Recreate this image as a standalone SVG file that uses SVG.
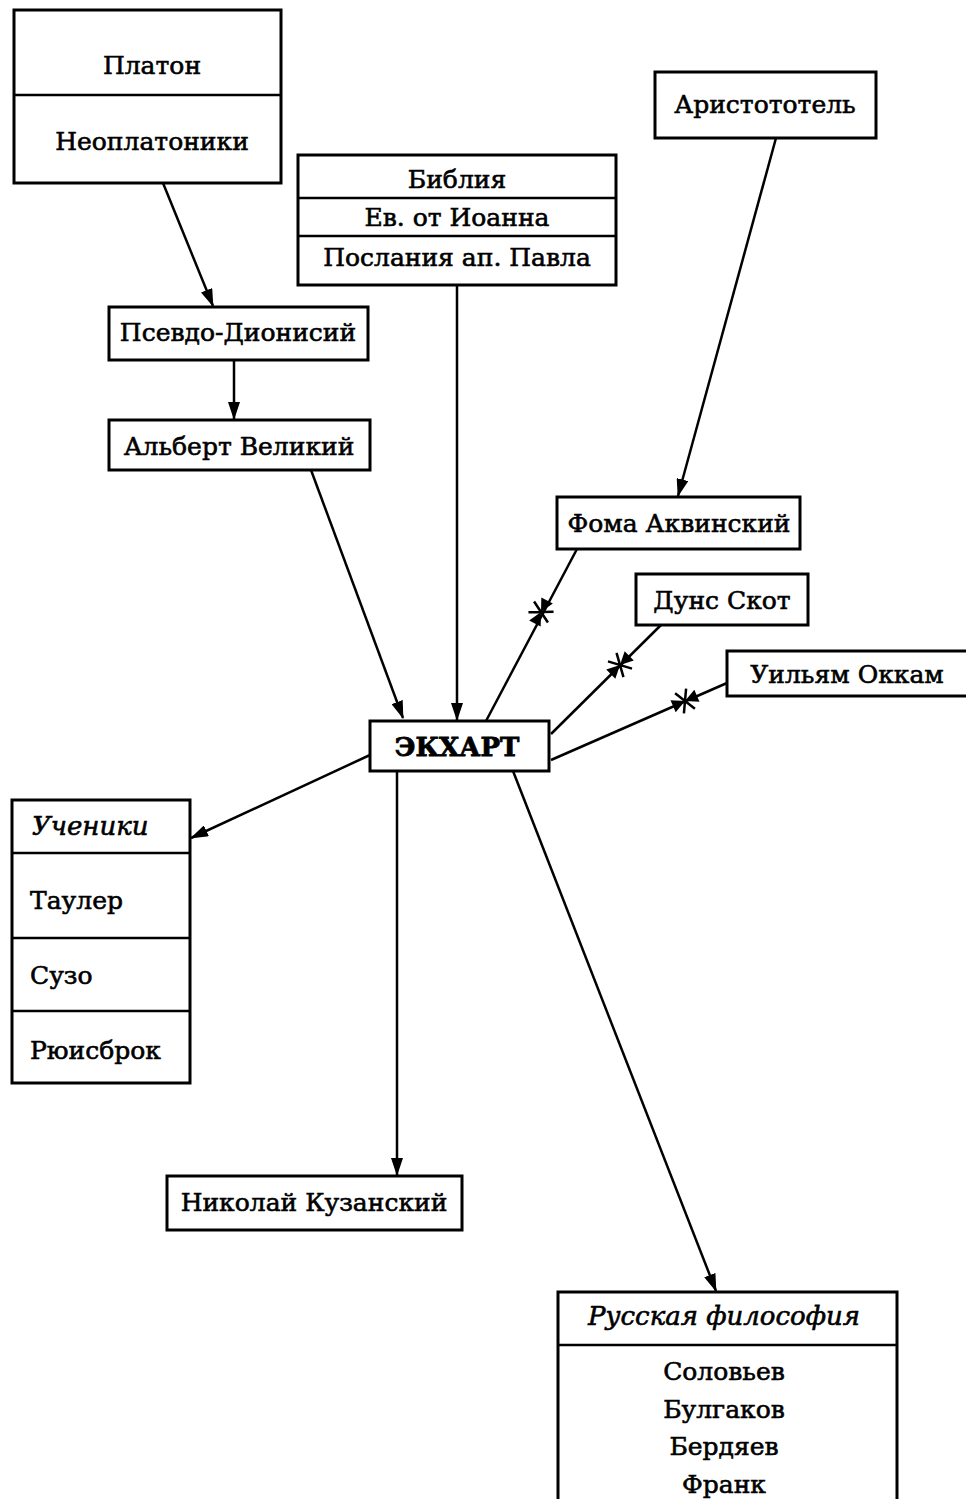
<svg xmlns="http://www.w3.org/2000/svg" width="966" height="1499" viewBox="0 0 966 1499">
<style>
.box{fill:#fff;stroke:#000;stroke-width:3}
.div{stroke:#000;stroke-width:2.5}
text{font-family:"DejaVu Serif","Liberation Serif",serif;font-size:25px;fill:#000;stroke:#000;stroke-width:0.6;dominant-baseline:central}
.c{text-anchor:middle}
.it{font-style:italic;font-size:26px}
.b{font-size:26px;font-weight:bold;stroke-width:0.8}
.edge{stroke:#000;stroke-width:2.5;fill:none}
</style>
<defs>
<marker id="ah" markerWidth="18" markerHeight="12" refX="17" refY="6" orient="auto" markerUnits="userSpaceOnUse">
<path d="M0,0 L18,6 L0,12 Z" fill="#000"/>
</marker>
<g id="xarrow">
<path d="M-13,-6.5 L0,0 L-13,6.5 Z" fill="#000"/>
<path d="M13,-6.5 L0,0 L13,6.5 Z" fill="#000"/>
<path d="M-6,-11 L6,11 M6,-11 L-6,11" stroke="#000" stroke-width="2.5"/>
</g>
</defs>

<g id="connectors">
<line class="edge" x1="163" y1="183" x2="213" y2="306" marker-end="url(#ah)"/>
<line class="edge" x1="234" y1="360" x2="234" y2="419" marker-end="url(#ah)"/>
<line class="edge" x1="457" y1="285" x2="457" y2="720" marker-end="url(#ah)"/>
<line class="edge" x1="776" y1="138" x2="678" y2="496" marker-end="url(#ah)"/>
<line class="edge" x1="311" y1="470" x2="403" y2="718" marker-end="url(#ah)"/>
<line class="edge" x1="486" y1="721" x2="577" y2="549"/>
<line class="edge" x1="551" y1="734" x2="661" y2="625"/>
<line class="edge" x1="551" y1="760" x2="727" y2="683"/>
<line class="edge" x1="370" y1="755" x2="191" y2="838" marker-end="url(#ah)"/>
<line class="edge" x1="397" y1="771" x2="397" y2="1175" marker-end="url(#ah)"/>
<line class="edge" x1="513" y1="771" x2="716" y2="1291" marker-end="url(#ah)"/>
<use href="#xarrow" transform="translate(541,612) rotate(-62.1)"/>
<use href="#xarrow" transform="translate(620,665) rotate(-44.7)"/>
<use href="#xarrow" transform="translate(685,701) rotate(-23.6)"/>
</g>

<g id="platon">
<rect class="box" x="14" y="10" width="267" height="173"/>
<line class="div" x1="14" y1="95" x2="281" y2="95"/>
<text class="c" x="152" y="65">Платон</text>
<text class="c" x="152" y="141">Неоплатоники</text>
</g>

<g id="bible">
<rect class="box" x="298" y="155" width="318" height="130"/>
<line class="div" x1="298" y1="198" x2="616" y2="198"/>
<line class="div" x1="298" y1="236" x2="616" y2="236"/>
<text class="c" x="457" y="179">Библия</text>
<text class="c" x="457" y="217">Ев. от Иоанна</text>
<text class="c" x="457" y="257">Послания ап. Павла</text>
</g>

<g id="aristotle">
<rect class="box" x="655" y="72" width="221" height="66"/>
<text class="c" x="765" y="104">Аристототель</text>
</g>

<g id="pseudo">
<rect class="box" x="109" y="307" width="259" height="53"/>
<text class="c" x="238" y="332">Псевдо-Дионисий</text>
</g>

<g id="albert">
<rect class="box" x="109" y="420" width="261" height="50"/>
<text class="c" x="239" y="446">Альберт Великий</text>
</g>

<g id="thomas">
<rect class="box" x="557" y="497" width="243" height="52"/>
<text class="c" x="679" y="523">Фома Аквинский</text>
</g>

<g id="duns">
<rect class="box" x="636" y="574" width="172" height="51"/>
<text class="c" x="722" y="600">Дунс Скот</text>
</g>

<g id="ockham">
<rect class="box" x="727" y="651" width="245" height="45"/>
<text class="c" x="847" y="674">Уильям Оккам</text>
</g>

<g id="eckhart">
<rect class="box" x="370" y="721" width="179" height="50"/>
<text class="c b" x="457" y="747">ЭКХАРТ</text>
</g>

<g id="students">
<rect class="box" x="12" y="800" width="178" height="283"/>
<line class="div" x1="12" y1="853" x2="190" y2="853"/>
<line class="div" x1="12" y1="938" x2="190" y2="938"/>
<line class="div" x1="12" y1="1011" x2="190" y2="1011"/>
<text class="it" x="32" y="826">Ученики</text>
<text x="30" y="900">Таулер</text>
<text x="30" y="975">Сузо</text>
<text x="30" y="1050">Рюисброк</text>
</g>

<g id="cusanus">
<rect class="box" x="167" y="1176" width="295" height="54"/>
<text class="c" x="314" y="1202">Николай Кузанский</text>
</g>

<g id="russian">
<rect class="box" x="558" y="1292" width="339" height="220"/>
<line class="div" x1="558" y1="1345" x2="897" y2="1345"/>
<text class="c it" x="724" y="1316">Русская философия</text>
<text class="c" x="724" y="1371">Соловьев</text>
<text class="c" x="724" y="1409">Булгаков</text>
<text class="c" x="724" y="1446">Бердяев</text>
<text class="c" x="724" y="1484">Франк</text>
</g>
</svg>
